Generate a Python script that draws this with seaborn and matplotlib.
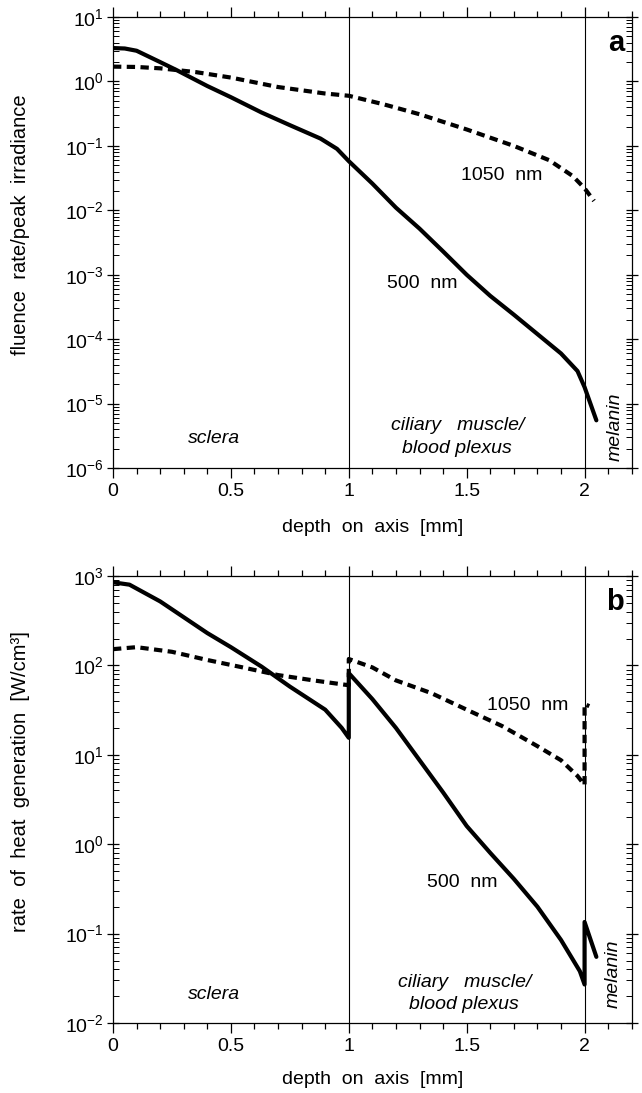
import numpy as np
import pandas as pd
import matplotlib
matplotlib.use("Agg")
import matplotlib.pyplot as plt
import matplotlib.ticker as mticker
import seaborn as sns

# values
# panel a: fluence rate / peak irradiance
a_x_500 = [0, 0.05, 0.1, 0.2, 0.27, 0.4, 0.5, 0.63, 0.75, 0.88, 0.95, 1.0,
           1.1, 1.2, 1.3, 1.4, 1.5, 1.6, 1.7, 1.8, 1.9, 1.97, 2.0, 2.05]
a_y_500 = [3.3, 3.25, 3.0, 2.0, 1.5, 0.85, 0.57, 0.33, 0.21, 0.13, 0.09, 0.058,
           0.026, 0.011, 0.0052, 0.0023, 0.001, 0.00047, 0.00024, 0.00012,
           0.00006, 0.000032, 0.000018, 0.0000055]
a_x_1050 = [0, 0.1, 0.2, 0.35, 0.5, 0.7, 0.9, 1.0, 1.15, 1.3, 1.5, 1.7,
            1.85, 1.95, 2.0, 2.04]
a_y_1050 = [1.7, 1.68, 1.6, 1.4, 1.15, 0.82, 0.65, 0.6, 0.44, 0.31, 0.18, 0.10,
            0.06, 0.034, 0.022, 0.014]

# panel b: rate of heat generation [W/cm3]
b_x_500 = [0, 0.07, 0.2, 0.4, 0.5, 0.63, 0.75, 0.9, 0.97, 1.0, 1.0, 1.1, 1.2,
           1.4, 1.5, 1.6, 1.7, 1.8, 1.9, 1.98, 2.0, 2.0, 2.05]
b_y_500 = [850, 800, 520, 230, 160, 97, 58, 32, 20, 15.5, 82, 42, 20,
           3.8, 1.6, 0.8, 0.41, 0.2, 0.085, 0.038, 0.027, 0.135, 0.055]
b_x_1050 = [0, 0.1, 0.25, 0.4, 0.55, 0.7, 0.85, 1.0, 1.0, 1.1, 1.2, 1.35, 1.5,
            1.65, 1.8, 1.9, 1.97, 2.0, 2.0, 2.02]
b_y_1050 = [152, 160, 142, 115, 95, 78, 68, 60, 118, 95, 68, 49, 32,
            21, 12.5, 8.7, 5.8, 4.6, 37, 35]

x_ticks = [0, 0.5, 1, 1.5, 2]
x_tick_labels = ["0", "0.5", "1", "1.5", "2"]
boundaries = [1, 2]


def make_df(x5, y5, x10, y10):
    d1 = pd.DataFrame({"depth": x5, "value": y5, "wl": "500 nm"})
    d2 = pd.DataFrame({"depth": x10, "value": y10, "wl": "1050 nm"})
    return pd.concat([d1, d2], ignore_index=True)


sns.set_style("ticks")
plt.rcParams["font.family"] = ["Liberation Sans", "DejaVu Sans"]
plt.rcParams["mathtext.fontset"] = "custom"
plt.rcParams["mathtext.rm"] = "Liberation Sans"
for key in ["text.color", "axes.labelcolor", "xtick.color", "ytick.color"]:
    plt.rcParams[key] = "black"

fig = plt.figure(figsize=(6.42, 10.93), dpi=100)
ax_a = fig.add_axes([0.176, 0.5718, 0.808, 0.4126])
ax_b = fig.add_axes([0.176, 0.0640, 0.808, 0.4090])

panels = [
    (ax_a, make_df(a_x_500, a_y_500, a_x_1050, a_y_1050), (1e-6, 1e1),
     "fluence  rate/peak  irradiance", "a", -0.113),
    (ax_b, make_df(b_x_500, b_y_500, b_x_1050, b_y_1050), (1e-2, 1e3),
     "rate  of  heat  generation  [W/cm³]", "b", -0.107),
]

for ax, df, ylim, ylab, tag, xlab_y in panels:
    sns.lineplot(data=df, x="depth", y="value", style="wl",
                 dashes={"500 nm": "", "1050 nm": (2.0, 1.3)},
                 color="black", linewidth=3.0, estimator=None, sort=False,
                 legend=False, ax=ax)
    ax.set_yscale("log")
    ax.set_xlim(0, 2.2)
    ax.set_ylim(*ylim)
    for b in boundaries:
        ax.axvline(b, color="black", linewidth=0.8, zorder=1)

    ax.set_xticks(x_ticks)
    ax.set_xticklabels(x_tick_labels)
    ax.xaxis.set_minor_locator(mticker.MultipleLocator(0.1))
    ax.yaxis.set_major_locator(mticker.LogLocator(base=10, numticks=20))
    ax.yaxis.set_minor_locator(mticker.LogLocator(base=10, subs=np.arange(2, 10), numticks=20))
    ax.yaxis.set_minor_formatter(mticker.NullFormatter())

    ax.tick_params(axis="x", which="both", direction="out", top=True,
                   labelsize=14, width=0.9, pad=4)
    ax.tick_params(axis="x", which="major", length=7)
    ax.tick_params(axis="x", which="minor", length=4)
    ax.tick_params(axis="y", which="major", direction="inout", length=9,
                   right=True, labelsize=14, width=0.9, pad=2)
    ax.tick_params(axis="y", which="minor", direction="in", length=4,
                   right=True, width=0.7)
    for s in ax.spines.values():
        s.set_linewidth(0.9)
        s.set_color("black")

    ax.set_xlabel("depth  on  axis  [mm]", fontsize=14)
    ax.set_ylabel(ylab, fontsize=14.5)
    ax.xaxis.set_label_coords(0.5, xlab_y)
    ax.yaxis.set_label_coords(-0.16, 0.54)
    ax.text(0.985, 0.942, tag, transform=ax.transAxes, fontsize=21,
            fontweight="bold", ha="right", va="center")

# annotations, panel a
ax_a.text(1.65, 0.035, "1050  nm", fontsize=14, ha="center", va="center")
ax_a.text(1.31, 7.4e-4, "500  nm", fontsize=14, ha="center", va="center")
ax_a.text(0.43, 2.9e-6, "sclera", fontsize=14, style="italic", ha="center", va="center")
ax_a.text(1.46, 10 ** -5.515, "ciliary   muscle/\nblood plexus", fontsize=14,
          style="italic", ha="center", va="center", linespacing=1.45)
ax_a.text(2.13, 10 ** -5.36, "melanin", fontsize=14, style="italic",
          rotation=90, ha="center", va="center")

# annotations, panel b
ax_b.text(1.76, 36, "1050  nm", fontsize=14, ha="center", va="center")
ax_b.text(1.48, 0.37, "500  nm", fontsize=14, ha="center", va="center")
ax_b.text(0.43, 0.021, "sclera", fontsize=14, style="italic", ha="center", va="center")
ax_b.text(1.49, 10 ** -1.67, "ciliary   muscle/\nblood plexus", fontsize=14,
          style="italic", ha="center", va="center", linespacing=1.45)
ax_b.text(2.12, 10 ** -1.45, "melanin", fontsize=14, style="italic",
          rotation=90, ha="center", va="center")

fig.savefig("out.png", dpi=100, facecolor="white")
